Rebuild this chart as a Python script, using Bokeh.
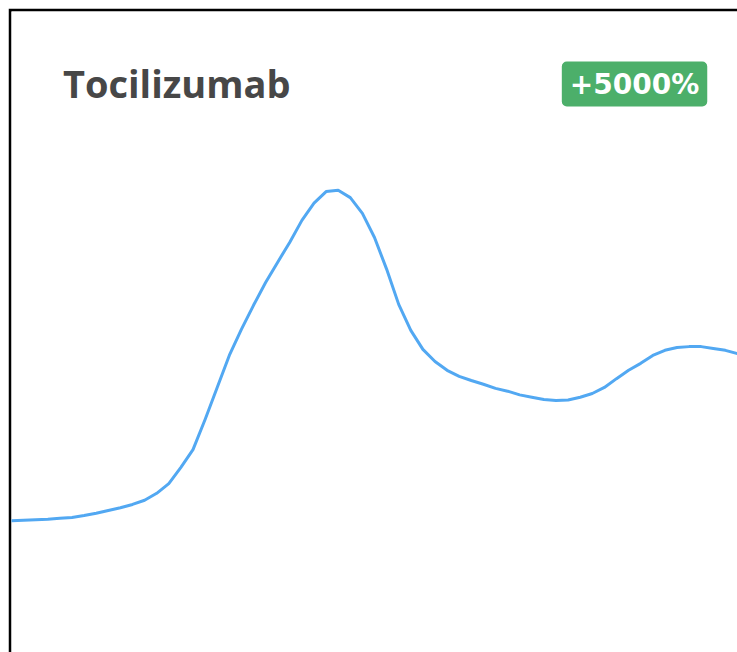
from bokeh.plotting import figure
from bokeh.models import Range1d, Label
from bokeh.embed import file_html
from bokeh.resources import INLINE

# --- data (search interest, index 0..60) ---
days = list(range(61))
interest = [28.4, 28.5, 28.6, 28.7, 28.9, 29.1, 29.5, 30.0, 30.6, 31.2,
            31.9, 32.8, 34.3, 36.4, 39.9, 43.7, 50.2, 57.1, 64.0, 69.6,
            74.8, 79.7, 84.1, 88.4, 93.1, 96.8, 99.3, 99.6, 98.0, 94.6,
            89.4, 82.6, 75.0, 69.4, 65.3, 62.7, 60.8, 59.5, 58.6, 57.8,
            56.9, 56.3, 55.5, 55.0, 54.5, 54.3, 54.4, 55.0, 55.8, 57.1,
            59.0, 60.8, 62.3, 64.0, 65.1, 65.7, 65.9, 65.9, 65.5, 65.1,
            64.4]
title_text = "Tocilizumab"
badge_text = "+5000%"

p = figure(width=729, height=644, output_backend="svg", toolbar_location=None,
           x_axis_type=None, y_axis_type=None,
           x_range=Range1d(0, 60), y_range=Range1d(0, 138.1),
           min_border_left=3, min_border_top=3, min_border_right=0, min_border_bottom=0,
           margin=(8, 0, 0, 8))
p.border_fill_color = "black"
p.background_fill_color = "white"
p.outline_line_color = None
p.grid.visible = False

p.line(days, interest, line_color="#52a8f2", line_width=3, line_join="round", line_cap="round")

p.add_layout(Label(x=4.25, y=122.6, text=title_text, text_font="Open Sans", text_font_style="bold",
                   text_font_size="38px", text_color="#474747", text_baseline="middle"))
p.add_layout(Label(x=51.49, y=122.48, text=badge_text, text_font="DejaVu Sans", text_font_style="bold",
                   text_font_size="28px", text_color="white", text_align="center",
                   text_baseline="middle", background_fill_color="#4caf6a",
                   padding=dict(left=8, right=8, top=6, bottom=6), border_radius=5))

open("out.html", "w").write(file_html(p, INLINE))
